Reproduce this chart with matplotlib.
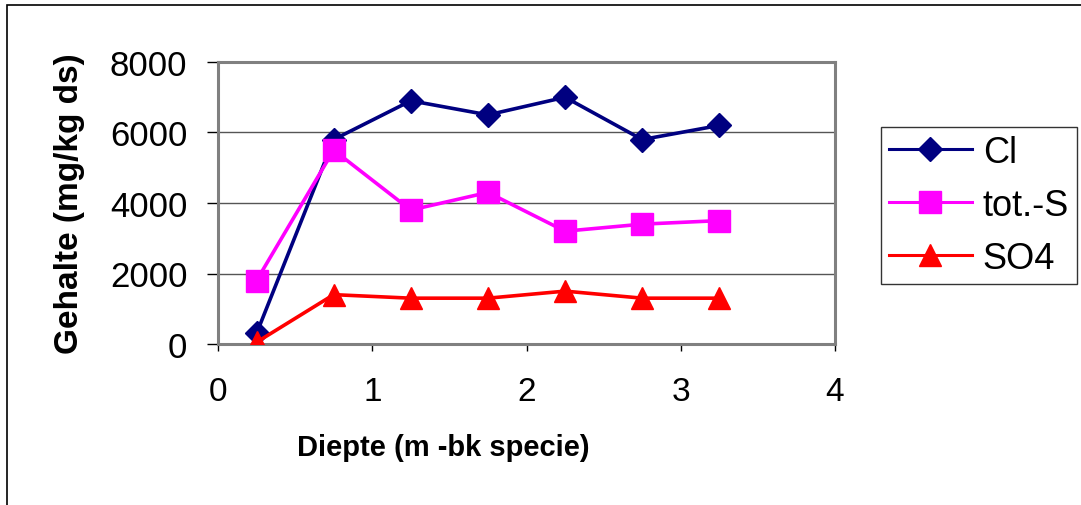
import matplotlib
matplotlib.use("Agg")
import matplotlib.pyplot as plt
from matplotlib.patches import Rectangle

plt.rcParams['font.family'] = ['Liberation Sans', 'DejaVu Sans']

depth = [0.25, 0.75, 1.25, 1.75, 2.25, 2.75, 3.25]
cl = [300, 5800, 6900, 6500, 7000, 5800, 6200]
tot_s = [1800, 5500, 3800, 4300, 3200, 3400, 3500]
so4 = [50, 1400, 1300, 1300, 1500, 1300, 1300]
series_names = ["Cl", "tot.-S", "SO4"]
x_ticks = [0, 1, 2, 3, 4]
y_ticks = [0, 2000, 4000, 6000, 8000]

W, H = 1081, 506
fig = plt.figure(figsize=(W / 100, H / 100), dpi=100)
L, R, T, B = 218, 835, 63, 345
ax = fig.add_axes([L / W, 1 - B / H, (R - L) / W, (B - T) / H])

ax.plot(depth, cl, color='#000080', lw=2.6, marker='D', ms=12, label=series_names[0], zorder=3)
ax.plot(depth, tot_s, color='#FF00FF', lw=2.6, marker='s', ms=16, label=series_names[1], zorder=3)
ax.plot(depth, so4, color='#FF0000', lw=2.6, marker='^', ms=16, label=series_names[2], zorder=4)

ax.set_xlim(0, 4)
ax.set_ylim(0, 8000)
ax.set_xticks(x_ticks)
ax.set_yticks(y_ticks)
ax.grid(axis='y', color='#555555', lw=1)
ax.set_axisbelow(True)
for s in ax.spines.values():
    s.set_color('#808080')
    s.set_linewidth(2.2)
ax.tick_params(axis='y', direction='out', length=8, width=1, pad=14, labelsize=25, color='black')
ax.tick_params(axis='x', direction='out', length=5, width=1, pad=18, labelsize=24, color='black')

ax.set_ylabel("Gehalte (mg/kg ds)", fontsize=24, fontweight='bold')
ax.yaxis.set_label_coords(-0.2156, 0.5)
ax.set_xlabel("Diepte (m -bk specie)", fontsize=21, fontweight='bold')
ax.xaxis.set_label_coords(0.365, -0.315)

leg = fig.legend(loc='upper left', bbox_to_anchor=(881 / W, 1 - 128 / H),
                 fontsize=26, frameon=True, fancybox=False, edgecolor='black',
                 borderpad=0.22, labelspacing=0.5, handlelength=2.3,
                 handletextpad=0.3, borderaxespad=0)
leg.get_frame().set_linewidth(1)
for h in leg.legend_handles:
    h.set_linewidth(2.2)

fig.patches.append(Rectangle((7 / W, -0.1), 1.2, 1 - 6 / H + 0.1, transform=fig.transFigure,
                             fill=False, edgecolor='black', lw=1.2))

fig.savefig("out.png", dpi=100)
